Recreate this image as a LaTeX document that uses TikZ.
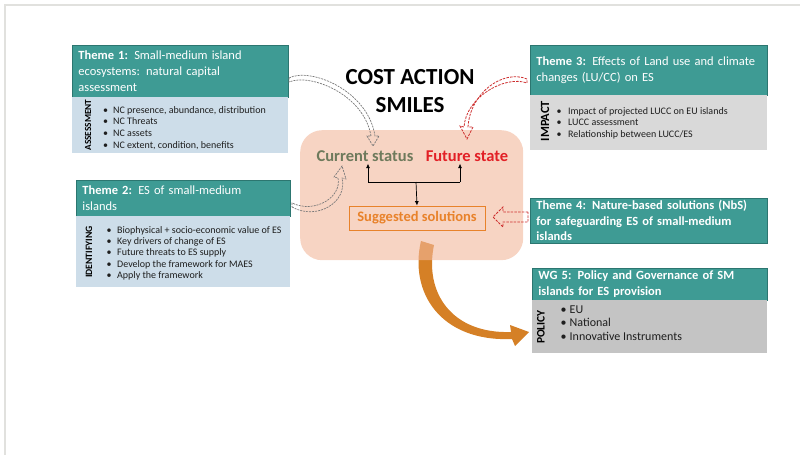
\documentclass[tikz,border=0pt]{standalone}
\usepackage{fontspec}
\setmainfont{Carlito}
\usetikzlibrary{arrows.meta}
\definecolor{tealH}{RGB}{62,155,148}
\definecolor{tealB}{RGB}{44,118,112}
\definecolor{blueB}{RGB}{205,221,233}
\definecolor{grayB}{RGB}{217,217,217}
\definecolor{grayC}{RGB}{196,196,196}
\definecolor{peach}{RGB}{242,183,155}
\definecolor{orangeA}{RGB}{213,128,38}
\definecolor{orangeT}{RGB}{232,130,42}
\definecolor{redT}{RGB}{226,32,38}
\definecolor{redD}{RGB}{205,45,45}
\definecolor{grayD}{RGB}{120,120,120}
\definecolor{olive}{RGB}{110,122,92}
\definecolor{txt}{RGB}{30,30,30}
\definecolor{framec}{RGB}{225,225,222}
\begin{document}
\begin{tikzpicture}[x=1pt,y=-1pt,
 hdr/.style={draw=tealB, line width=0.8pt, fill=tealH, text=white, anchor=north west, inner xsep=6pt, inner ysep=0pt, align=left, font=\fontsize{12.5}{16}\selectfont},
 bodybox/.style={anchor=north west, inner sep=0pt, draw=none},
 sidelab/.style={rotate=90, font=\bfseries\fontsize{9.3}{10}\selectfont, text=black, inner sep=0pt},
 blist/.style={anchor=north west, inner sep=0pt, align=left, text=txt},
 hollowgray/.style={draw=grayD, line width=0.7pt, dash pattern=on 2pt off 1pt},
 hollowred/.style={draw=redD, line width=0.8pt, dash pattern=on 2.5pt off 1.2pt},
 tip/.style={-{Latex[length=4.5pt,width=4pt]}, line width=0.7pt}
]
\useasboundingbox (0,0) rectangle (800,455);
\draw[framec, line width=1.2pt] (5,455) -- (5,5) -- (800,5);

% ---------- Theme 1
\node[hdr, minimum width=216pt, minimum height=52pt, text width=204pt] (h1) at (72,45)
  {\textbf{Theme 1:} Small-medium island\\ecosystems: natural capital\\assessment};
\node[bodybox, fill=blueB, minimum width=216pt, minimum height=56pt] (b1) at (72,97) {};
\node[sidelab] (l1) at (88,125) {ASSESSMENT};
\node[blist, font=\fontsize{10}{11.7}\selectfont] (t1) at (103,106)
  {\textbullet\hspace{5pt}NC presence, abundance, distribution\\
   \textbullet\hspace{5pt}NC Threats\\
   \textbullet\hspace{5pt}NC assets\\
   \textbullet\hspace{5pt}NC extent, condition, benefits};

% ---------- Theme 2
\node[hdr, minimum width=214pt, minimum height=36pt, text width=202pt] (h2) at (76,180)
  {\textbf{Theme 2:} ES of small-medium\\islands};
\node[bodybox, fill=blueB, minimum width=214pt, minimum height=71pt] (b2) at (76,216) {};
\node[sidelab, font=\bfseries\fontsize{9.7}{11}\selectfont] (l2) at (89,252) {IDENTIFYING};
\node[blist, font=\fontsize{10}{11.2}\selectfont] (t2) at (106.5,226.3)
  {\textbullet\hspace{5.5pt}Biophysical + socio-economic value of ES\\
   \textbullet\hspace{5.5pt}Key drivers of change of ES\\
   \textbullet\hspace{5.5pt}Future threats to ES supply\\
   \textbullet\hspace{5.5pt}Develop the framework for MAES\\
   \textbullet\hspace{5.5pt}Apply the framework};

% ---------- Theme 3
\node[hdr, minimum width=237pt, minimum height=50pt, text width=225pt] (h3) at (530,45)
  {\textbf{Theme 3:} Effects of Land use and climate\\changes (LU/CC) on ES};
\node[bodybox, fill=grayB, minimum width=237pt, minimum height=55pt] (b3) at (530,95) {};
\node[sidelab, font=\bfseries\fontsize{12.5}{13}\selectfont] (l3) at (545,121) {IMPACT};
\node[blist, font=\fontsize{10}{11.5}\selectfont] (t3) at (556.5,107.3)
  {\textbullet\hspace{6.5pt}Impact of projected LUCC on EU islands\\
   \textbullet\hspace{6.5pt}LUCC assessment\\
   \textbullet\hspace{6.5pt}Relationship between LUCC/ES};

% ---------- Theme 4
\node[hdr, minimum width=237pt, minimum height=45pt, text width=225pt, font=\bfseries\fontsize{12.5}{15.5}\selectfont] (h4) at (530,198)
  {\makebox[215pt][s]{Theme 4: Nature-based solutions (NbS)}\\\makebox[200pt][s]{for safeguarding ES of small-medium}\\islands};

% ---------- WG 5
\node[hdr, minimum width=235pt, minimum height=32pt, text width=223pt, font=\bfseries\fontsize{12.5}{16}\selectfont] (h5) at (532,268)
  {\makebox[201pt][s]{WG 5: Policy and Governance of SM}\\islands for ES provision};
\node[bodybox, fill=grayC, minimum width=235pt, minimum height=53pt] (b5) at (532,300) {};
\node[sidelab, font=\bfseries\fontsize{11.5}{12}\selectfont] (l5) at (541,327) {POLICY};
\node[blist, font=\fontsize{12}{13.5}\selectfont] (t5) at (560.5,305.3)
  {\textbullet\hspace{3pt}EU\\
   \textbullet\hspace{3pt}National\\
   \textbullet\hspace{3pt}Innovative Instruments};

% ---------- orange curved arrow (under the box)
\fill[orangeA] (421,241) .. controls (409,292) and (440,342) .. (512,339)
   -- (515,346) -- (529,332) -- (510,325) -- (511,332)
   .. controls (452,334) and (424,293) .. (434,245) -- cycle;

% ---------- central box
\node[bodybox, fill=peach, fill opacity=0.6, rounded corners=22pt, minimum width=223pt, minimum height=130pt] (core) at (300,130) {};

\node[font=\bfseries\fontsize{23}{28}\selectfont, align=center, text=black] (title) at (410,91) {COST ACTION\\SMILES};
\node[font=\bfseries\fontsize{16.5}{18}\selectfont, text=olive, inner sep=2pt] (cur) at (365,156) {Current status};
\node[font=\bfseries\fontsize{16.5}{18}\selectfont, text=redT, inner sep=2pt] (fut) at (467,156) {Future state};
\node[draw=orangeT, line width=0.8pt, text=orangeT, font=\bfseries\fontsize{14.5}{16}\selectfont, minimum width=136pt, minimum height=24pt, inner sep=1pt] (sugg) at (417,218) {Suggested solutions};

\coordinate (jl) at (368,182);
\coordinate (jr) at (460,182);
\coordinate (jm) at (416,182);
\draw[line width=0.7pt] (jl) -- (jr);
\draw[tip] (jl) -- (jl |- cur.south);
\draw[tip] (jr) -- (jr |- fut.south);
\draw[tip] (jm) -- (sugg.north);

% ---------- dashed hollow arrows
\draw[hollowgray] (289,78) .. controls (310,67) and (368,90) .. (375,136)
   -- (379,136) -- (373,146) -- (367,136) -- (371,136)
   .. controls (364,94) and (310,73) .. (289,82) -- cycle;
\draw[hollowgray] (292,207) .. controls (317,221) and (348,202) .. (342,178)
   -- (346,179) -- (342,166) -- (334,177) -- (338,178)
   .. controls (342,197) and (315,214) .. (292,203) -- cycle;
\draw[hollowred] (527,79) .. controls (503,69) and (470,93) .. (468,127)
   -- (473,127) -- (467,139) -- (460,126) -- (464,127)
   .. controls (466,97) and (505,75) .. (527,83) -- cycle;
\draw[hollowred] (528,212) -- (503,212) -- (503,207) -- (493,217) -- (503,227) -- (503,222) -- (528,222) -- cycle;
\end{tikzpicture}
\end{document}
